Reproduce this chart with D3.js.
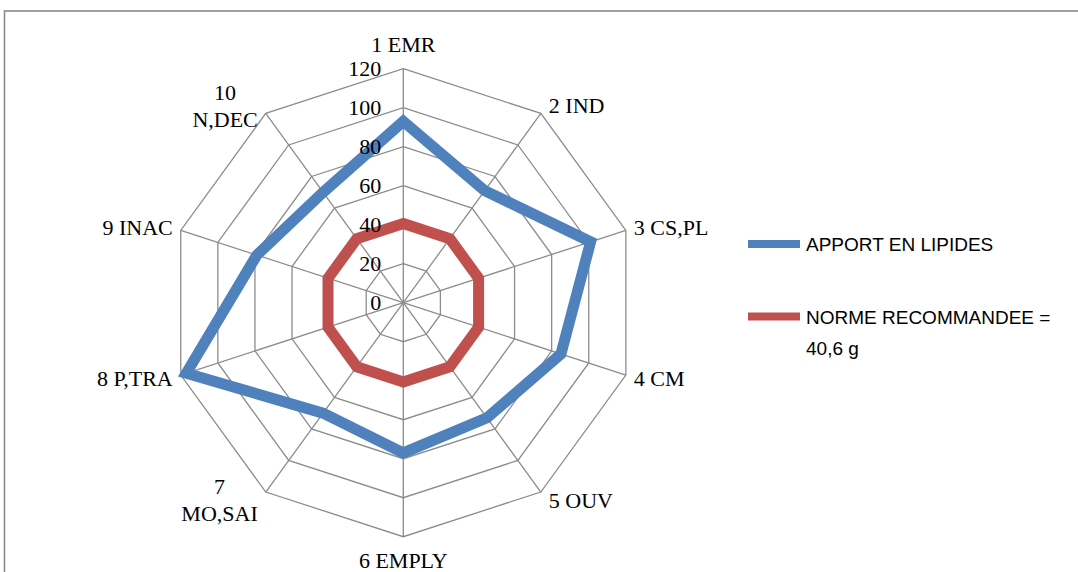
<!DOCTYPE html>
<html>
<head>
<meta charset="utf-8">
<script src="https://cdn.jsdelivr.net/npm/d3@7"></script>
<style>
  html, body { margin: 0; padding: 0; background: #ffffff; }
  svg { display: block; }
</style>
</head>
<body>
<svg id="chart" width="1078" height="572"></svg>
<script>
// Categories (one spoke each, clockwise from the top)
const categories = [
  ["1 EMR"], ["2 IND"], ["3 CS,PL"], ["4 CM"], ["5 OUV"],
  ["6 EMPLY"], ["7", "MO,SAI"], ["8 P,TRA"], ["9 INAC"], ["10", "N,DEC"]
];

// Series values
const apportLipides = [93, 71, 101, 85, 73, 77, 70, 117, 79, 70];
const normeRecommandee = [40.6, 40.6, 40.6, 40.6, 40.6, 40.6, 40.6, 40.6, 40.6, 40.6];

// Radial tick labels
const radialTicks = [0, 20, 40, 60, 80, 100, 120];

const seriesNames = ["APPORT EN LIPIDES", ["NORME RECOMMANDEE =", "40,6 g"]];
const seriesColors = ["#4F81BD", "#C0504D"];

const svg = d3.select("#chart");
const W = 1078, H = 572;
const cx = 403.3, cy = 302.7;

// outer chart frame
svg.append("rect")
  .attr("x", 4.5).attr("y", 11)
  .attr("width", W + 20).attr("height", H + 20)
  .attr("fill", "none")
  .attr("stroke", "#8a8a8a")
  .attr("stroke-width", 1.6);

const r = d3.scaleLinear().domain([0, 120]).range([0, 234]);
const angle = d3.scaleLinear().domain([0, categories.length]).range([0, 2 * Math.PI]);

const g = svg.append("g").attr("transform", `translate(${cx},${cy})`);

const pt = (i, v) => [Math.sin(angle(i)) * r(v), -Math.cos(angle(i)) * r(v)];

// concentric decagons
const ring = d3.lineRadial()
  .angle((d, i) => angle(i))
  .radius(d => r(d))
  .curve(d3.curveLinearClosed);

radialTicks.filter(t => t > 0).forEach(t => {
  g.append("path")
    .attr("d", ring(categories.map(() => t)))
    .attr("fill", "none")
    .attr("stroke", "#8c8c8c")
    .attr("stroke-width", 1.3);
});

// spokes
categories.forEach((c, i) => {
  const [x, y] = pt(i, radialTicks[radialTicks.length - 1]);
  g.append("line")
    .attr("x1", 0).attr("y1", 0)
    .attr("x2", x).attr("y2", y)
    .attr("stroke", "#8c8c8c")
    .attr("stroke-width", 1.3);
});

// series polygons
[normeRecommandee, apportLipides].forEach((vals, k) => {
  g.append("path")
    .attr("d", ring(vals))
    .attr("fill", "none")
    .attr("stroke", k === 0 ? seriesColors[1] : seriesColors[0])
    .attr("stroke-width", 11)
    .attr("stroke-linejoin", "miter")
    .attr("stroke-miterlimit", 10);
});

// radial tick labels
const serif = "'Liberation Serif', 'Times New Roman', serif";
radialTicks.forEach(t => {
  g.append("text")
    .attr("x", -22)
    .attr("y", -r(t))
    .attr("dy", "0.35em")
    .attr("text-anchor", "end")
    .attr("font-family", serif)
    .attr("font-size", 22)
    .attr("fill", "#000")
    .text(t);
});

// category labels
const fs = 22, lh = 27;
categories.forEach((lines, i) => {
  const a = angle(i);
  const [vx, vy] = pt(i, 120);
  const s = Math.sin(a), c = Math.cos(a);
  let x, yc;
  if (Math.abs(s) < 0.1) {
    x = vx;
    yc = vy - Math.sign(c) * 24;
  } else {
    yc = vy - c * 10;
    x = vx + (s > 0 ? 8 : -8);
  }
  const t = g.append("text")
    .attr("font-family", serif)
    .attr("font-size", fs)
    .attr("fill", "#000")
    .attr("text-anchor", "middle");
  const spans = lines.map((ln, j) => t.append("tspan")
    .attr("y", yc + (j - (lines.length - 1) / 2) * lh)
    .attr("dy", "0.35em")
    .text(ln));
  // widest line sets the block width, which is aligned against the vertex
  const bw = d3.max(spans, sp => sp.node().getComputedTextLength());
  let mid;
  if (Math.abs(s) < 0.1) mid = x;
  else if (s > 0) mid = x + bw / 2;
  else mid = x - bw / 2;
  spans.forEach(sp => sp.attr("x", mid));
});

// legend
const sans = "'Liberation Sans', Arial, sans-serif";
const legendY = [244, 316.5];
seriesNames.forEach((name, k) => {
  svg.append("line")
    .attr("x1", 748).attr("x2", 800)
    .attr("y1", legendY[k]).attr("y2", legendY[k])
    .attr("stroke", seriesColors[k])
    .attr("stroke-width", 8);
  const lines = Array.isArray(name) ? name : [name];
  const t = svg.append("text")
    .attr("font-family", sans)
    .attr("font-size", 19)
    .attr("fill", "#000");
  lines.forEach((ln, j) => {
    t.append("tspan")
      .attr("x", 806)
      .attr("y", legendY[k] + 7 + j * 31)
      .text(ln);
  });
});
</script>
</body>
</html>
